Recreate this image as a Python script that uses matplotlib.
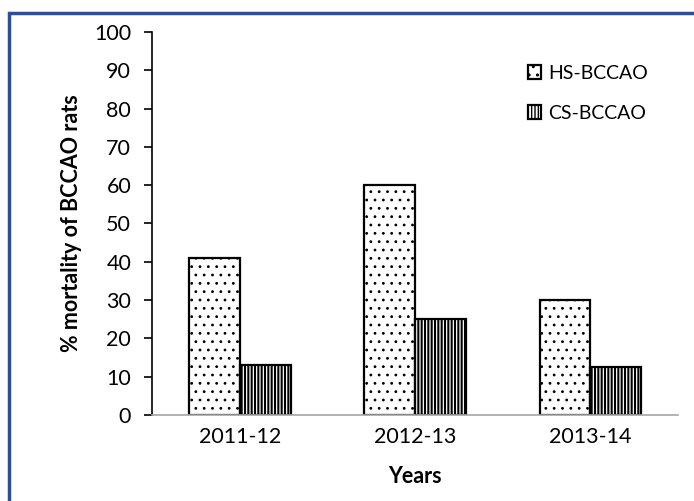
import numpy as np
import matplotlib as mpl
import matplotlib.pyplot as plt
from matplotlib.patches import Rectangle

# mortality (%) per year for the two BCCAO groups
years = ["2011-12", "2012-13", "2013-14"]
hs_bccao = [41, 60, 30]
cs_bccao = [13, 25, 12.5]

plt.rcParams['font.family'] = ['Lato', 'DejaVu Sans']

fig = plt.figure(figsize=(6.94, 5.01), dpi=100)
ax = fig.add_axes([0.219, 0.1717, 0.758, 0.7645])

x = np.arange(len(years))
w = 0.29
# thin dots for HS, heavier stripes for CS
with mpl.rc_context({'hatch.linewidth': 0.8}):
    ax.bar(x - w / 2, hs_bccao, w, color='white', edgecolor='black',
           linewidth=1.6, hatch='..', label='HS-BCCAO')
with mpl.rc_context({'hatch.linewidth': 1.5}):
    ax.bar(x + w / 2, cs_bccao, w, color='white', edgecolor='black',
           linewidth=1.6, hatch='|||||', label='CS-BCCAO')

ax.set_xlim(-0.5, 2.5)
ax.set_ylim(0, 100)
ax.set_yticks(range(0, 101, 10))
ax.set_xticks(x)
ax.set_xticklabels(years)
ax.tick_params(axis='y', direction='out', length=6, width=1.2, labelsize=15.5, pad=9)
ax.tick_params(axis='x', length=0, labelsize=15.5, pad=9)

for s in ['top', 'right']:
    ax.spines[s].set_visible(False)
ax.spines['left'].set_linewidth(1.2)
ax.spines['bottom'].set_color('#a6a6a6')
ax.spines['bottom'].set_linewidth(1.2)

ax.set_ylabel("% mortality of BCCAO rats", fontsize=15.5, fontweight='bold', labelpad=9)
ax.set_xlabel("Years", fontsize=15.5, fontweight='bold', labelpad=13)

ax.legend(loc='upper left', bbox_to_anchor=(0.735, 0.906), bbox_transform=fig.transFigure,
          frameon=False, fontsize=14, handlelength=0.7, handleheight=0.7,
          handletextpad=0.35, labelspacing=1.2)

# blue frame on the left and top edges
fig.add_artist(Rectangle((8.5 / 694, -0.1), 1.2, 1.1 - 12.5 / 501,
                         transform=fig.transFigure, fill=False,
                         edgecolor='#2a4f9e', linewidth=2.5))

fig.savefig("out.png", dpi=100)
